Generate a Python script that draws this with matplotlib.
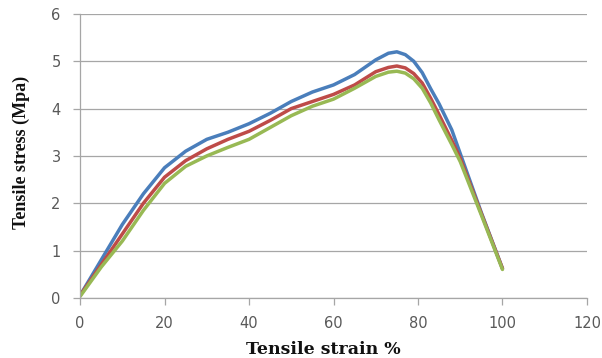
import matplotlib
matplotlib.use("Agg")
import matplotlib.pyplot as plt

strain = [0, 5, 10, 15, 20, 25, 30, 35, 40, 45, 50, 55, 60, 65, 70, 73, 75, 77, 79, 81, 83, 85, 88, 90, 95, 100]
stress_blue = [0.05, 0.8, 1.55, 2.2, 2.75, 3.1, 3.35, 3.5, 3.68, 3.9, 4.15, 4.35, 4.5, 4.72, 5.03, 5.17, 5.2, 5.14, 5.0, 4.76, 4.42, 4.1, 3.55, 3.05, 1.8, 0.62]
stress_red = [0.05, 0.7, 1.35, 2.0, 2.55, 2.9, 3.15, 3.35, 3.52, 3.75, 4.0, 4.15, 4.3, 4.5, 4.78, 4.87, 4.9, 4.86, 4.74, 4.54, 4.22, 3.87, 3.33, 2.95, 1.78, 0.62]
stress_green = [0.03, 0.65, 1.2, 1.85, 2.42, 2.78, 3.0, 3.18, 3.35, 3.6, 3.85, 4.05, 4.2, 4.43, 4.68, 4.77, 4.79, 4.75, 4.63, 4.43, 4.12, 3.76, 3.24, 2.88, 1.75, 0.6]

x_ticks = [0, 20, 40, 60, 80, 100, 120]
y_ticks = [0, 1, 2, 3, 4, 5, 6]

fig = plt.figure(figsize=(6.02, 3.58), dpi=100)
ax = fig.add_axes([0.133, 0.168, 0.842, 0.793])

for ys, c in [(stress_blue, "#4A7EBB"), (stress_red, "#BE4B48"), (stress_green, "#98B954")]:
    ax.plot(strain, ys, color=c, lw=2.5, solid_capstyle="round", solid_joinstyle="round")

ax.set_xlim(0, 120)
ax.set_ylim(0, 6)
ax.set_xticks(x_ticks)
ax.set_yticks(y_ticks)
ax.yaxis.grid(True, color="#A6A6A6", lw=0.9)
ax.set_axisbelow(True)
for s in ["top", "right"]:
    ax.spines[s].set_visible(False)
for s in ["left", "bottom"]:
    ax.spines[s].set_color("#A6A6A6")
    ax.spines[s].set_linewidth(0.9)
ax.tick_params(axis="both", colors="#A6A6A6", direction="out", length=5, width=0.9,
               labelcolor="#595959", labelsize=10.5)
ax.tick_params(axis="x", pad=8)
ax.tick_params(axis="y", pad=9)
for lab in ax.get_xticklabels() + ax.get_yticklabels():
    lab.set_family("DejaVu Sans")

fig.text(0.537, 4.0 / 358, "Tensile strain %", family="DejaVu Serif", fontweight="bold",
         fontsize=12.5, ha="center", va="baseline", color="#111111")
fig.text(0.035, 0.573, "Tensile stress (Mpa)", family="Liberation Serif", fontweight="bold",
         fontsize=13, ha="center", va="center", rotation=90, color="#111111")

fig.savefig("out.png", dpi=100)
